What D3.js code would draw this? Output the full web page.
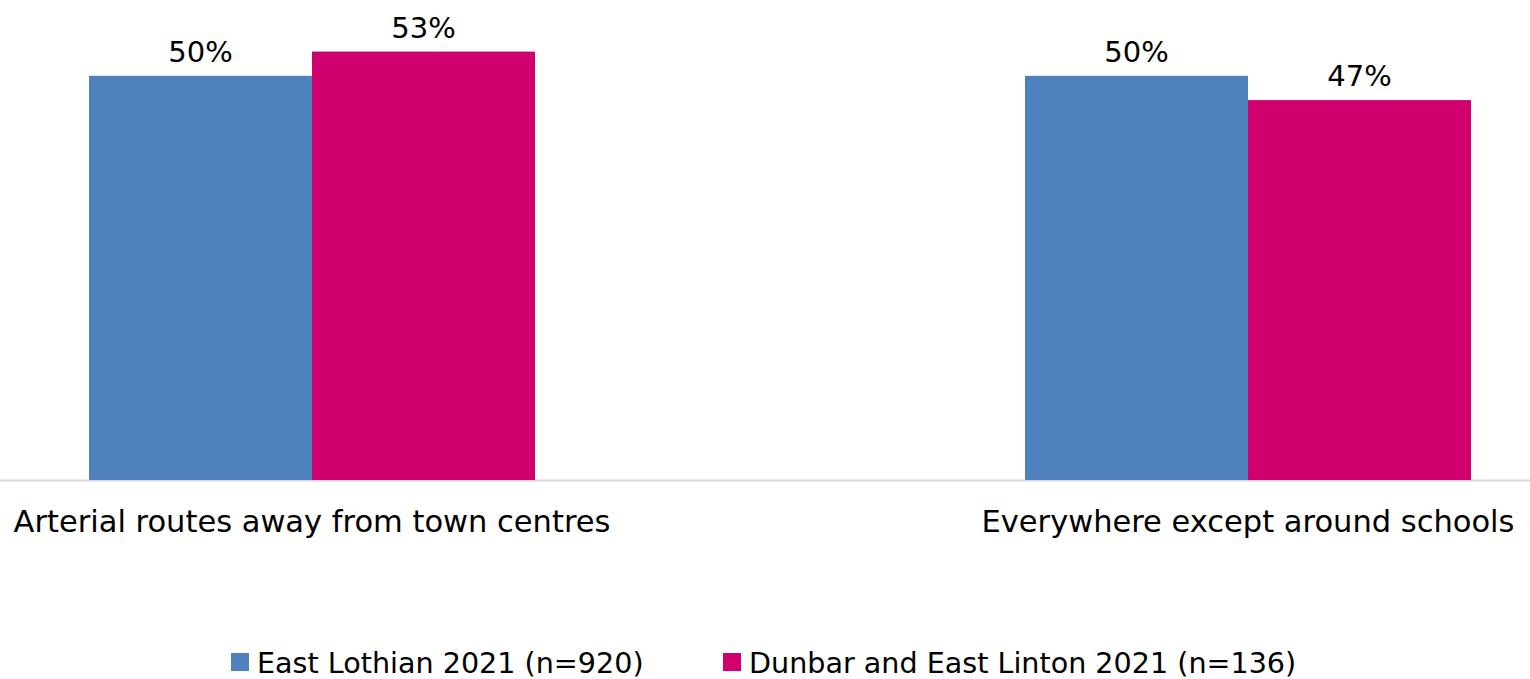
<!DOCTYPE html>
<html>
<head>
<meta charset="utf-8">
<script src="https://cdn.jsdelivr.net/npm/d3@7"></script>
<style>
  html, body { margin: 0; padding: 0; background: #fff; }
  svg { display: block; font-family: "DejaVu Sans", sans-serif; }
</style>
</head>
<body>
<div id="chart"></div>
<script>
// data
var categories = ['Arterial routes away from town centres', 'Everywhere except around schools'];
var seriesNames = ['East Lothian 2021 (n=920)', 'Dunbar and East Linton 2021 (n=136)'];
var seriesColors = ['#4f81bd', '#d0006f'];
var eastLothian = [50, 50];
var dunbar = [53, 47];
var seriesValues = [eastLothian, dunbar];

var width = 1530, height = 679;

var svg = d3.select('#chart').append('svg')
    .attr('width', width)
    .attr('height', height);

//scales
var x = d3.scaleBand()
    .domain(categories)
    .range([89, 1471])
    .paddingInner(0.5235)
    .paddingOuter(0);

var xSub = d3.scaleBand()
    .domain(d3.range(seriesNames.length))
    .range([0, x.bandwidth()]);

var y = d3.scaleLinear()
    .domain([0, 60])
    .range([480, -5]);

//baseline
svg.append('line')
    .attr('x1', 0).attr('x2', width)
    .attr('y1', y(0) + 0.5).attr('y2', y(0) + 0.5)
    .attr('stroke', '#d9d9d9')
    .attr('stroke-width', 2);

//bars + value labels
var groups = svg.selectAll('g.group')
    .data(categories)
    .enter().append('g')
    .attr('class', 'group')
    .attr('transform', function(d){ return 'translate(' + x(d) + ',0)'; });

groups.each(function(cat, ci){
    var g = d3.select(this);
    seriesValues.forEach(function(vals, si){
        g.append('rect')
            .attr('x', xSub(si))
            .attr('width', xSub.bandwidth())
            .attr('y', y(vals[ci]))
            .attr('height', y(0) - y(vals[ci]))
            .attr('fill', seriesColors[si]);
        g.append('text')
            .attr('x', xSub(si) + xSub.bandwidth() / 2)
            .attr('y', y(vals[ci]) - 14)
            .attr('text-anchor', 'middle')
            .attr('fill', '#000')
            .style('font-size', '29px')
            .text(vals[ci] + '%');
    });
});

//category labels
svg.selectAll('text.cat')
    .data(categories)
    .enter().append('text')
    .attr('class', 'cat')
    .attr('x', function(d){ return x(d) + x.bandwidth() / 2; })
    .attr('y', 532)
    .attr('text-anchor', 'middle')
    .attr('fill', '#000')
    .style('font-size', '30.5px')
    .text(function(d){ return d; });

//legend
var legendX = [231, 723];
var legend = svg.selectAll('g.legend')
    .data(seriesNames)
    .enter().append('g')
    .attr('class', 'legend')
    .attr('transform', function(d, i){ return 'translate(' + legendX[i] + ',653)'; });

legend.append('rect')
    .attr('width', 18).attr('height', 18)
    .attr('fill', function(d, i){ return seriesColors[i]; });

legend.append('text')
    .attr('x', 26)
    .attr('y', 20)
    .attr('fill', '#000')
    .style('font-size', '28.6px')
    .text(function(d){ return d; });
</script>
</body>
</html>
